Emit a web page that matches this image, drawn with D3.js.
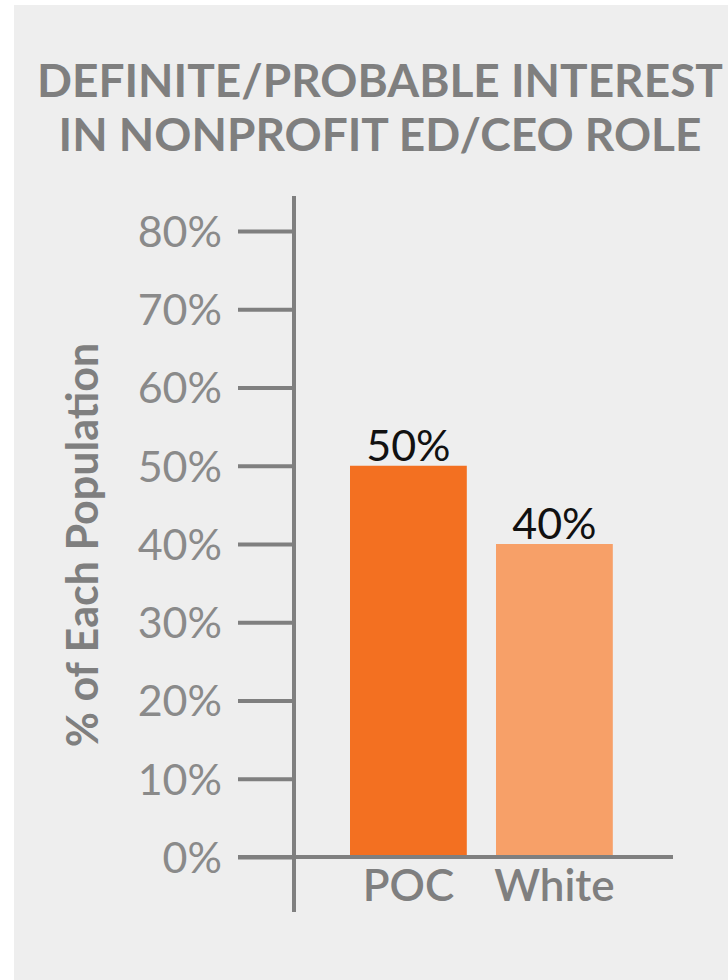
<!DOCTYPE html>
<html>
<head>
<meta charset="utf-8">
<script src="https://cdn.jsdelivr.net/npm/d3@7"></script>
<style>
  html, body { margin: 0; padding: 0; background: #ffffff; }
  svg { display: block; }
</style>
</head>
<body>
<script>
const categories = ["POC", "White"];
const values = [0.50, 0.40];
const valueLabels = ["50%", "40%"];
const barColors = ["#f37021", "#f7a068"];
const yTicks = [0, 0.1, 0.2, 0.3, 0.4, 0.5, 0.6, 0.7, 0.8];
const titleLines = ["DEFINITE/PROBABLE INTEREST", "IN NONPROFIT ED/CEO ROLE"];
const yAxisTitle = "% of Each Population";

const W = 728, H = 980;
const svg = d3.select("body").append("svg").attr("width", W).attr("height", H);

svg.append("rect").attr("x", 14).attr("y", 5).attr("width", W - 14).attr("height", H - 5).attr("fill", "#eeeeee");

const gray = "#7f7f7f";
const font = "Lato, 'Open Sans', sans-serif";

svg.selectAll("text.title").data(titleLines).enter().append("text")
  .attr("class", "title")
  .attr("x", 380).attr("y", (d, i) => 97 + i * 54)
  .attr("text-anchor", "middle")
  .attr("font-family", font).attr("font-weight", 700).attr("font-size", 46)
  .attr("fill", gray)
  .text(d => d);

const y = d3.scaleLinear().domain([0, 0.8]).range([857, 231]);
const x = d3.scaleBand().domain(categories).range([335.4, 627.4]).paddingInner(0.2).paddingOuter(0.1);

const axisX = 294;

// y axis ticks
const yAxis = d3.axisLeft(y).tickValues(yTicks).tickFormat(d3.format(".0%")).tickSize(56).tickPadding(16);
const gy = svg.append("g").attr("transform", `translate(${axisX},0)`).call(yAxis);
gy.select(".domain").remove();
gy.selectAll(".tick line").attr("stroke", gray).attr("stroke-width", 4);
gy.selectAll(".tick text").attr("font-family", font).attr("font-size", 43).attr("fill", "#8a8a8a").attr("dy", "0.36em");

// bars
svg.selectAll("rect.bar").data(categories).enter().append("rect")
  .attr("class", "bar")
  .attr("x", d => x(d)).attr("width", x.bandwidth())
  .attr("y", (d, i) => y(values[i])).attr("height", (d, i) => y(0) - y(values[i]))
  .attr("fill", (d, i) => barColors[i]);

// value labels
svg.selectAll("text.val").data(categories).enter().append("text")
  .attr("class", "val")
  .attr("x", d => x(d) + x.bandwidth() / 2)
  .attr("y", (d, i) => y(values[i]) - 5)
  .attr("text-anchor", "middle")
  .attr("font-family", font).attr("font-size", 43).attr("fill", "#111111")
  .text((d, i) => valueLabels[i]);

// axis lines
svg.append("line").attr("x1", axisX).attr("x2", axisX).attr("y1", 196).attr("y2", 912)
  .attr("stroke", gray).attr("stroke-width", 4);
svg.append("line").attr("x1", 238).attr("x2", 673).attr("y1", y(0)).attr("y2", y(0))
  .attr("stroke", gray).attr("stroke-width", 4);

// x labels
const xAxis = d3.axisBottom(x).tickSize(0).tickPadding(0);
const gx = svg.append("g").attr("transform", `translate(0,${y(0)})`).call(xAxis);
gx.select(".domain").remove();
gx.selectAll(".tick text").attr("font-family", font).attr("font-size", 44).attr("font-weight", 600)
  .attr("fill", gray).attr("dy", null).attr("y", 44);

// y title
svg.append("text")
  .attr("transform", "translate(98,545) rotate(-90)")
  .attr("text-anchor", "middle")
  .attr("font-family", font).attr("font-weight", 700).attr("font-size", 43)
  .attr("fill", gray)
  .text(yAxisTitle);
</script>
</body>
</html>
